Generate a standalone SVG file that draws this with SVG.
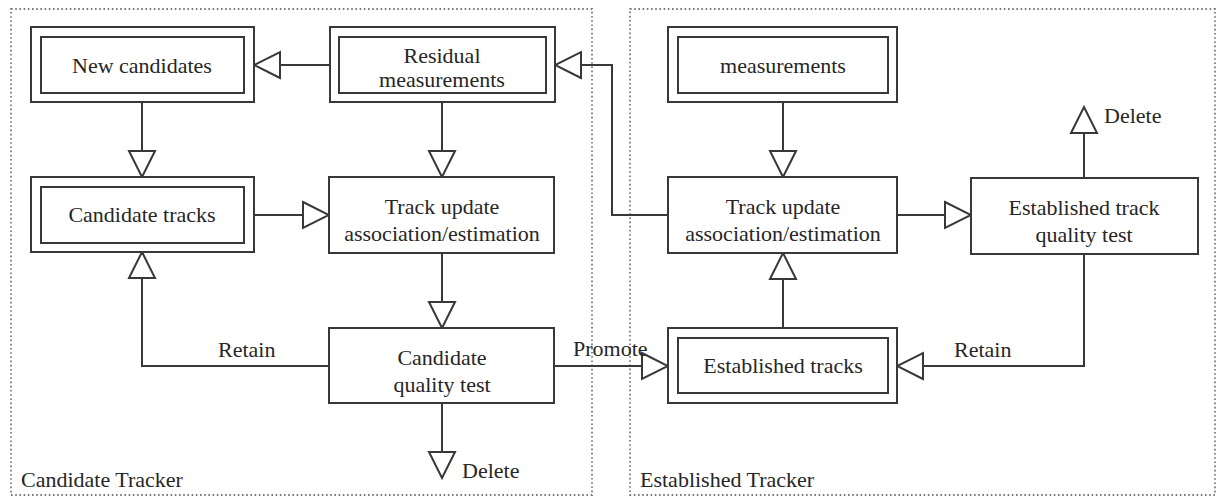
<svg xmlns="http://www.w3.org/2000/svg" width="1217" height="497" viewBox="0 0 1217 497" font-family="'Liberation Serif', 'Times New Roman', 'DejaVu Serif', serif">
  <style>
    .bg { fill: #ffffff; }
    .frame { fill: none; stroke: #7a7a7a; stroke-width: 1.8; stroke-dasharray: 1.6 2.6; }
    .box { fill: #ffffff; stroke: #383838; stroke-width: 2; }
    .wire { fill: none; stroke: #383838; stroke-width: 2; marker-end: url(#hollow); }
    .t { font-family: 'Liberation Serif', 'Times New Roman', 'DejaVu Serif', serif; font-size: 22px; fill: #262626; }
    .c { text-anchor: middle; }
  </style>
  <defs>
    <!-- open triangular arrowhead; tip sits at the path end -->
    <marker id="hollow" markerUnits="userSpaceOnUse" markerWidth="30" markerHeight="30" viewBox="-2 -2 30 30" refX="26" refY="13" orient="auto">
      <path d="M0,0 L26,13 L0,26 Z" fill="#ffffff" stroke="#383838" stroke-width="2" stroke-linejoin="miter"/>
    </marker>
  </defs>

  <rect class="bg" x="0" y="0" width="1217" height="497"/>

  <!-- tracker frames -->
  <g id="candidate-tracker">
    <rect class="frame" x="11" y="9" width="581" height="486"/>
    <text class="t" x="21" y="487">Candidate Tracker</text>
  </g>
  <g id="established-tracker">
    <rect class="frame" x="630" y="9" width="585" height="486"/>
    <text class="t" x="640" y="487">Established Tracker</text>
  </g>

  <!-- connectors -->
  <g id="connectors">
    <path class="wire" d="M330,65 H254"/>
    <path class="wire" d="M142,102 V177"/>
    <path class="wire" d="M442,102 V177"/>
    <path class="wire" d="M254,215 H329"/>
    <path class="wire" d="M442,253 V328"/>
    <path class="wire" d="M442,403 V478"/>
    <path class="wire" d="M329,366 H142 V252"/>
    <path class="wire" d="M554,366 H668"/>
    <path class="wire" d="M668,215 H612 V65 H555"/>
    <path class="wire" d="M783,102 V177"/>
    <path class="wire" d="M783,328 V253"/>
    <path class="wire" d="M897,215 H971"/>
    <path class="wire" d="M1084,178 V107"/>
    <path class="wire" d="M1084,254 V366 H897"/>
    <text class="t" x="218" y="357">Retain</text>
    <text class="t" x="573" y="356">Promote</text>
    <text class="t" x="462" y="478">Delete</text>
    <text class="t" x="1104" y="123">Delete</text>
    <text class="t" x="954" y="357">Retain</text>
  </g>

  <!-- candidate tracker nodes -->
  <g id="new-candidates">
    <rect class="box" x="31" y="27" width="223" height="75"/>
    <rect class="box" x="41" y="37" width="203" height="56"/>
    <text class="t c" x="142" y="73">New candidates</text>
  </g>
  <g id="residual-measurements">
    <rect class="box" x="330" y="27" width="225" height="75"/>
    <rect class="box" x="339" y="37" width="207" height="56"/>
    <text class="t c" x="442" y="63">Residual</text>
    <text class="t c" x="442" y="87">measurements</text>
  </g>
  <g id="candidate-tracks">
    <rect class="box" x="31" y="177" width="223" height="75"/>
    <rect class="box" x="41" y="187" width="203" height="56"/>
    <text class="t c" x="142" y="222">Candidate tracks</text>
  </g>
  <g id="candidate-track-update">
    <rect class="box" x="329" y="177" width="225" height="76"/>
    <text class="t c" x="442" y="214">Track update</text>
    <text class="t c" x="442" y="241">association/estimation</text>
  </g>
  <g id="candidate-quality-test">
    <rect class="box" x="329" y="328" width="225" height="75"/>
    <text class="t c" x="442" y="365">Candidate</text>
    <text class="t c" x="442" y="392">quality test</text>
  </g>

  <!-- established tracker nodes -->
  <g id="measurements">
    <rect class="box" x="668" y="27" width="229" height="75"/>
    <rect class="box" x="678" y="37" width="210" height="56"/>
    <text class="t c" x="783" y="73">measurements</text>
  </g>
  <g id="established-track-update">
    <rect class="box" x="668" y="177" width="229" height="76"/>
    <text class="t c" x="783" y="214">Track update</text>
    <text class="t c" x="783" y="241">association/estimation</text>
  </g>
  <g id="established-quality-test">
    <rect class="box" x="971" y="178" width="227" height="76"/>
    <text class="t c" x="1084" y="215">Established track</text>
    <text class="t c" x="1084" y="242">quality test</text>
  </g>
  <g id="established-tracks">
    <rect class="box" x="668" y="328" width="229" height="75"/>
    <rect class="box" x="678" y="338" width="210" height="55"/>
    <text class="t c" x="783" y="373">Established tracks</text>
  </g>
</svg>
